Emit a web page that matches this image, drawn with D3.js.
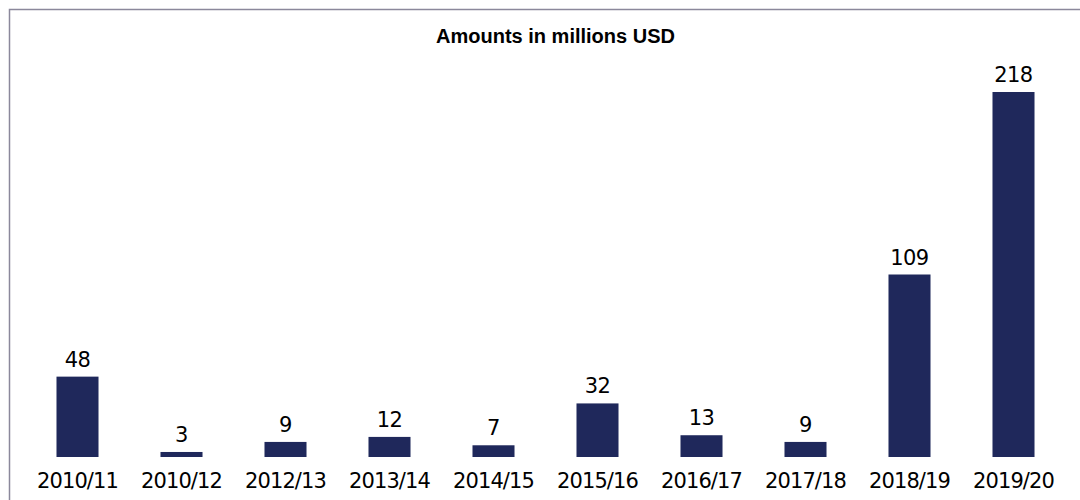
<!DOCTYPE html>
<html>
<head>
<meta charset="utf-8">
<script src="https://cdn.jsdelivr.net/npm/d3@7"></script>
<style>
  html, body { margin: 0; padding: 0; background: #ffffff; }
  svg { display: block; }
</style>
</head>
<body>
<svg id="chart" width="1080" height="500"></svg>
<script>
// Fiscal years and amounts (millions USD)
const categories = ["2010/11", "2010/12", "2012/13", "2013/14", "2014/15",
                    "2015/16", "2016/17", "2017/18", "2018/19", "2019/20"];
const amounts = [48, 3, 9, 12, 7, 32, 13, 9, 109, 218];
const chartTitle = "Amounts in millions USD";

const W = 1080, H = 500;
const svg = d3.select("#chart");
const labelFont = "'DejaVu Sans', sans-serif";

// Frame of the chart area (open on the right and bottom)
svg.append("path")
  .attr("d", `M9.5,${H + 2} V9.5 H${W + 2}`)
  .attr("fill", "none")
  .attr("stroke", "#8b889b")
  .attr("stroke-width", 1.5);

// Title
svg.append("text")
  .attr("x", 555.5)
  .attr("y", 43)
  .attr("text-anchor", "middle")
  .attr("font-family", "'Liberation Sans', Arial, sans-serif")
  .attr("font-weight", "bold")
  .attr("font-size", 20)
  .attr("fill", "#000")
  .text(chartTitle);

// Scales
const x = d3.scaleBand()
  .domain(categories)
  .range([25.5, 1065.5])
  .paddingInner(0.596)
  .paddingOuter(0.298);

const baseline = 457;
const y = d3.scaleLinear()
  .domain([0, 218])
  .range([baseline, 92]);

const data = categories.map((c, i) => ({ cat: c, value: amounts[i] }));

// Bars
svg.append("g")
  .selectAll("rect")
  .data(data)
  .join("rect")
  .attr("x", d => x(d.cat))
  .attr("y", d => y(d.value))
  .attr("width", x.bandwidth())
  .attr("height", d => baseline - y(d.value))
  .attr("fill", "#1f285b");

// Value labels above bars
svg.append("g")
  .selectAll("text")
  .data(data)
  .join("text")
  .attr("x", d => x(d.cat) + x.bandwidth() / 2)
  .attr("y", d => y(d.value) - 10)
  .attr("text-anchor", "middle")
  .attr("font-family", labelFont)
  .attr("font-size", 21)
  .attr("letter-spacing", -0.6)
  .attr("fill", "#000")
  .text(d => d.value);

// Category axis (no domain line or ticks)
const xAxis = svg.append("g")
  .attr("transform", `translate(0,${baseline})`)
  .call(d3.axisBottom(x).tickSize(0).tickPadding(0));
xAxis.select(".domain").remove();
xAxis.selectAll("text")
  .attr("dy", null)
  .attr("y", 31)
  .attr("font-family", labelFont)
  .attr("font-size", 21)
  .attr("letter-spacing", -0.9)
  .attr("fill", "#000");
</script>
</body>
</html>
